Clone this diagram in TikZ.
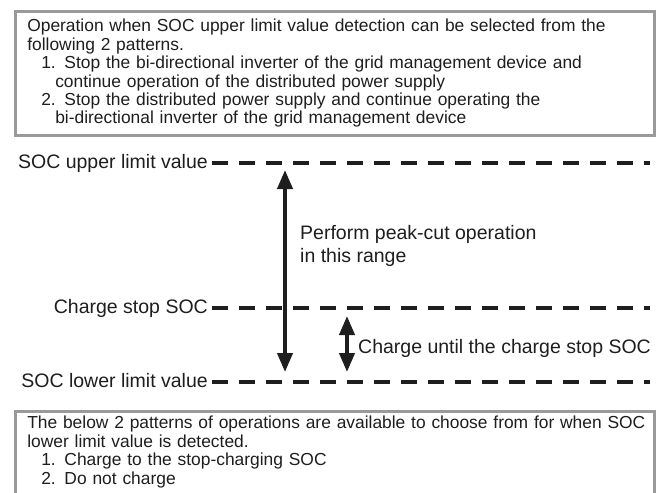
\documentclass[tikz,border=0pt]{standalone}
\usepackage{fontspec}
\setmainfont{Liberation Sans}
\usetikzlibrary{arrows.meta,positioning}
\definecolor{ink}{HTML}{1E1E1E}
\definecolor{frame}{HTML}{9A9A9A}

\begin{document}
\begin{tikzpicture}[x=1pt, y=-1pt,
  note/.style={draw=frame, line width=2.6pt, anchor=north west, text width=615pt,
    inner xsep=12pt, align=left, text=ink, font=\fontsize{17.4}{18.4}\selectfont},
  level/.style={anchor=east, inner xsep=4pt, inner ysep=0pt, text height=14pt,
    text depth=4pt, text=ink, font=\fontsize{19.5}{23}\selectfont},
  tag/.style={anchor=west, inner sep=0pt, align=left, text=ink,
    font=\fontsize{19.5}{22.5}\selectfont},
  socline/.style={ink, line width=4pt, dash pattern=on 16pt off 11pt},
  socspan/.style={{Triangle[length=19pt,width=15pt]}-{Triangle[length=19pt,width=15pt]},
    ink, line width=4pt}]
  \useasboundingbox (0,0) rectangle (662,493);
  \clip (0,0) rectangle (662,493);
  \fill[white] (0,0) rectangle (662,493);

  % upper limit patterns
  \node[note, inner ysep=6pt, minimum height=124pt] (top) at (14,10)
    {Operation when SOC upper limit value detection can be selected from the\\
     following 2 patterns.\\
     \hspace*{14pt}1. Stop the bi-directional inverter of the grid management device and\\
     \hspace*{28pt}continue operation of the distributed power supply\\
     \hspace*{14pt}2. Stop the distributed power supply and continue operating the\\
     \hspace*{28pt}bi-directional inverter of the grid management device};

  % SOC levels
  \node[level] (upper) at (212,163) {SOC upper limit value};
  \node[level] (stop) at (212,308) {Charge stop SOC};
  \node[level] (lower) at (212,382) {SOC lower limit value};
  \coordinate (upperR) at (650,163);
  \coordinate (stopR) at (650,308);
  \coordinate (lowerR) at (650,382);
  \draw[socline] (upper.east) -- (upperR);
  \draw[socline] (stop.east) -- (stopR);
  \draw[socline] (lower.east) -- (lowerR);

  % ranges
  \coordinate (bigtop) at (285,170);
  \coordinate (bigbot) at (285,372);
  \coordinate (smalltop) at (347,316);
  \coordinate (smallbot) at (347,372);
  \draw[socspan] (bigtop) -- (bigbot);
  \draw[socspan] (smalltop) -- (smallbot);
  \node[tag] (peak) at (300,246) {Perform peak-cut operation\\in this range};
  \node[tag] (until) at (358,348) {Charge until the charge stop SOC};

  % lower limit patterns, frame runs off the bottom edge
  \node[note, inner ysep=5pt] (bottom) at (14,410)
    {\mbox{The below 2 patterns of operations are available to choose from for when SOC}\\
     lower limit value is detected.\\
     \hspace*{14pt}1. Charge to the stop-charging SOC\\
     \hspace*{14pt}2. Do not charge\rule[-16pt]{0pt}{16pt}};
\end{tikzpicture}
\end{document}
